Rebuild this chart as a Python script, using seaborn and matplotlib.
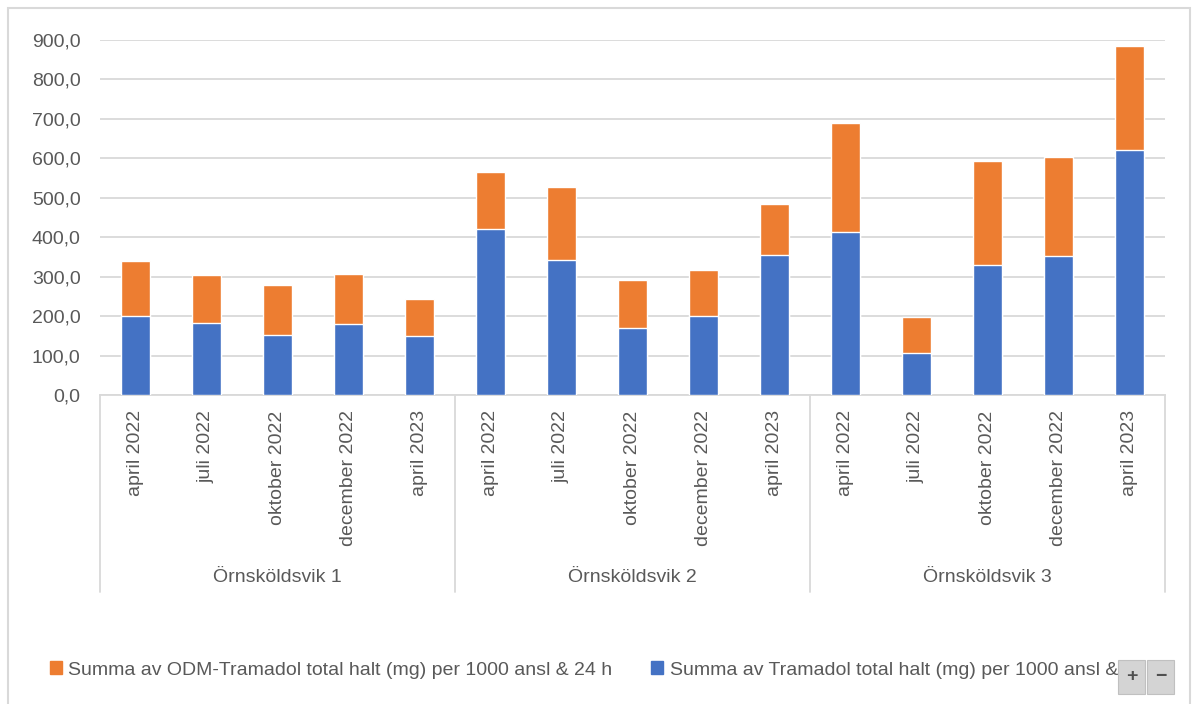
import numpy as np
import pandas as pd
import matplotlib
matplotlib.use('Agg')
import matplotlib.pyplot as plt
import matplotlib.transforms as mtransforms
import seaborn as sns
from matplotlib.ticker import FuncFormatter
from matplotlib.patches import Rectangle, Patch

# Data (mg per 1000 inhabitants & 24 h)
sites = ['Örnsköldsvik 1', 'Örnsköldsvik 2', 'Örnsköldsvik 3']
months = ['april 2022', 'juli 2022', 'oktober 2022', 'december 2022', 'april 2023']
tramadol = [200, 183, 153, 180, 150, 422, 343, 170, 200, 355, 414, 106, 329, 352, 621]
odm_tramadol = [140, 122, 125, 128, 93, 143, 184, 121, 117, 129, 275, 91, 263, 251, 264]
label_odm = 'Summa av ODM-Tramadol total halt (mg) per 1000 ansl & 24 h'
label_tram = 'Summa av Tramadol total halt (mg) per 1000 ansl & 24 h'

df = pd.DataFrame({'site': np.repeat(sites, len(months)),
                   'month': months * len(sites),
                   'tramadol': tramadol,
                   'odm': odm_tramadol})
df['key'] = df['site'] + ' | ' + df['month']      # unique x key per bar
df['total'] = df['tramadol'] + df['odm']          # height of the stacked bar

blue = '#4472C4'
orange = '#ED7D31'
grey_line = '#d9d9d9'
text_col = '#595959'
fs = 14

sns.set_style('white')
plt.rcParams['font.family'] = ['Liberation Sans', 'DejaVu Sans']

W, H = 1197, 704
fig = plt.figure(figsize=(W / 100, H / 100), dpi=100)
ax = fig.add_axes([100 / W, 1 - 395 / H, 1065 / W, 355 / H])

# Stacked bars: total in orange, Tramadol in blue drawn on top
sns.barplot(data=df, x='key', y='total', order=df['key'], color=orange, saturation=1,
            width=0.4, errorbar=None, ax=ax, zorder=2)
sns.barplot(data=df, x='key', y='tramadol', order=df['key'], color=blue, saturation=1,
            width=0.4, errorbar=None, ax=ax, zorder=3)

ax.set_xlim(-0.5, len(df) - 0.5)
ax.set_ylim(0, 900)
ax.set_yticks(range(0, 901, 100))
ax.yaxis.set_major_formatter(FuncFormatter(lambda v, p: f'{v:.1f}'.replace('.', ',')))
ax.yaxis.grid(True, color=grey_line, lw=1.3)
ax.set_axisbelow(True)
ax.set_xlabel('')
ax.set_ylabel('')

ax.set_xticks(range(len(df)))
ax.set_xticklabels(df['month'], rotation=90, va='top', ha='center')
ax.tick_params(axis='x', length=0, pad=11, labelsize=fs, labelcolor=text_col)
ax.tick_params(axis='y', length=0, pad=14, labelsize=fs, labelcolor=text_col)

for s in ['top', 'right', 'left']:
    ax.spines[s].set_visible(False)
ax.spines['bottom'].set_color(grey_line)
ax.spines['bottom'].set_linewidth(1.3)

# Multi-level category axis: separators and site names
trans = mtransforms.blended_transform_factory(ax.transData, ax.transAxes)
for xs in [-0.5, 4.5, 9.5, 14.5]:
    ax.plot([xs, xs], [0, -197 / 355], transform=trans, color=grey_line, lw=1.3, clip_on=False)
for i, site in enumerate(sites):
    ax.text(i * len(months) + 2, -183 / 355, site, transform=trans, ha='center', va='center',
            fontsize=fs, color=text_col)

# Legend under the chart
handles = [Patch(color=orange, label=label_odm), Patch(color=blue, label=label_tram)]
leg = fig.legend(handles=handles, loc='center left', bbox_to_anchor=(50 / W, 34 / H), ncol=2,
                 frameon=False, fontsize=fs, labelcolor=text_col, handlelength=0.6,
                 handleheight=0.6, handletextpad=0.35, columnspacing=2.0, borderaxespad=0,
                 borderpad=0)
clip = mtransforms.TransformedBbox(mtransforms.Bbox([[0, 0], [1140 / W, 1]]), fig.transFigure)
for t in leg.get_texts():
    t.set_clip_on(True)
    t.set_clip_box(clip)                          # text is cut off at the chart edge

# Outer chart frame
fig.add_artist(Rectangle((8 / W, -0.01), (1190 - 8) / W, (H - 8) / H + 0.01, fill=False,
                         edgecolor=grey_line, lw=1.5, transform=fig.transFigure))

# Zoom buttons in the corner
for x0, sym in [(1118, '+'), (1147, '−')]:
    fig.add_artist(Rectangle((x0 / W, 10 / H), 27 / W, 34 / H, facecolor='#d4d4d4',
                             edgecolor='#c0c0c0', lw=0.8, transform=fig.transFigure, zorder=10))
    fig.text((x0 + 13.5) / W, 27 / H, sym, ha='center', va='center', fontsize=14,
             fontweight='bold', color='#505050', zorder=11)

fig.savefig('out.png', dpi=100, facecolor='white')
